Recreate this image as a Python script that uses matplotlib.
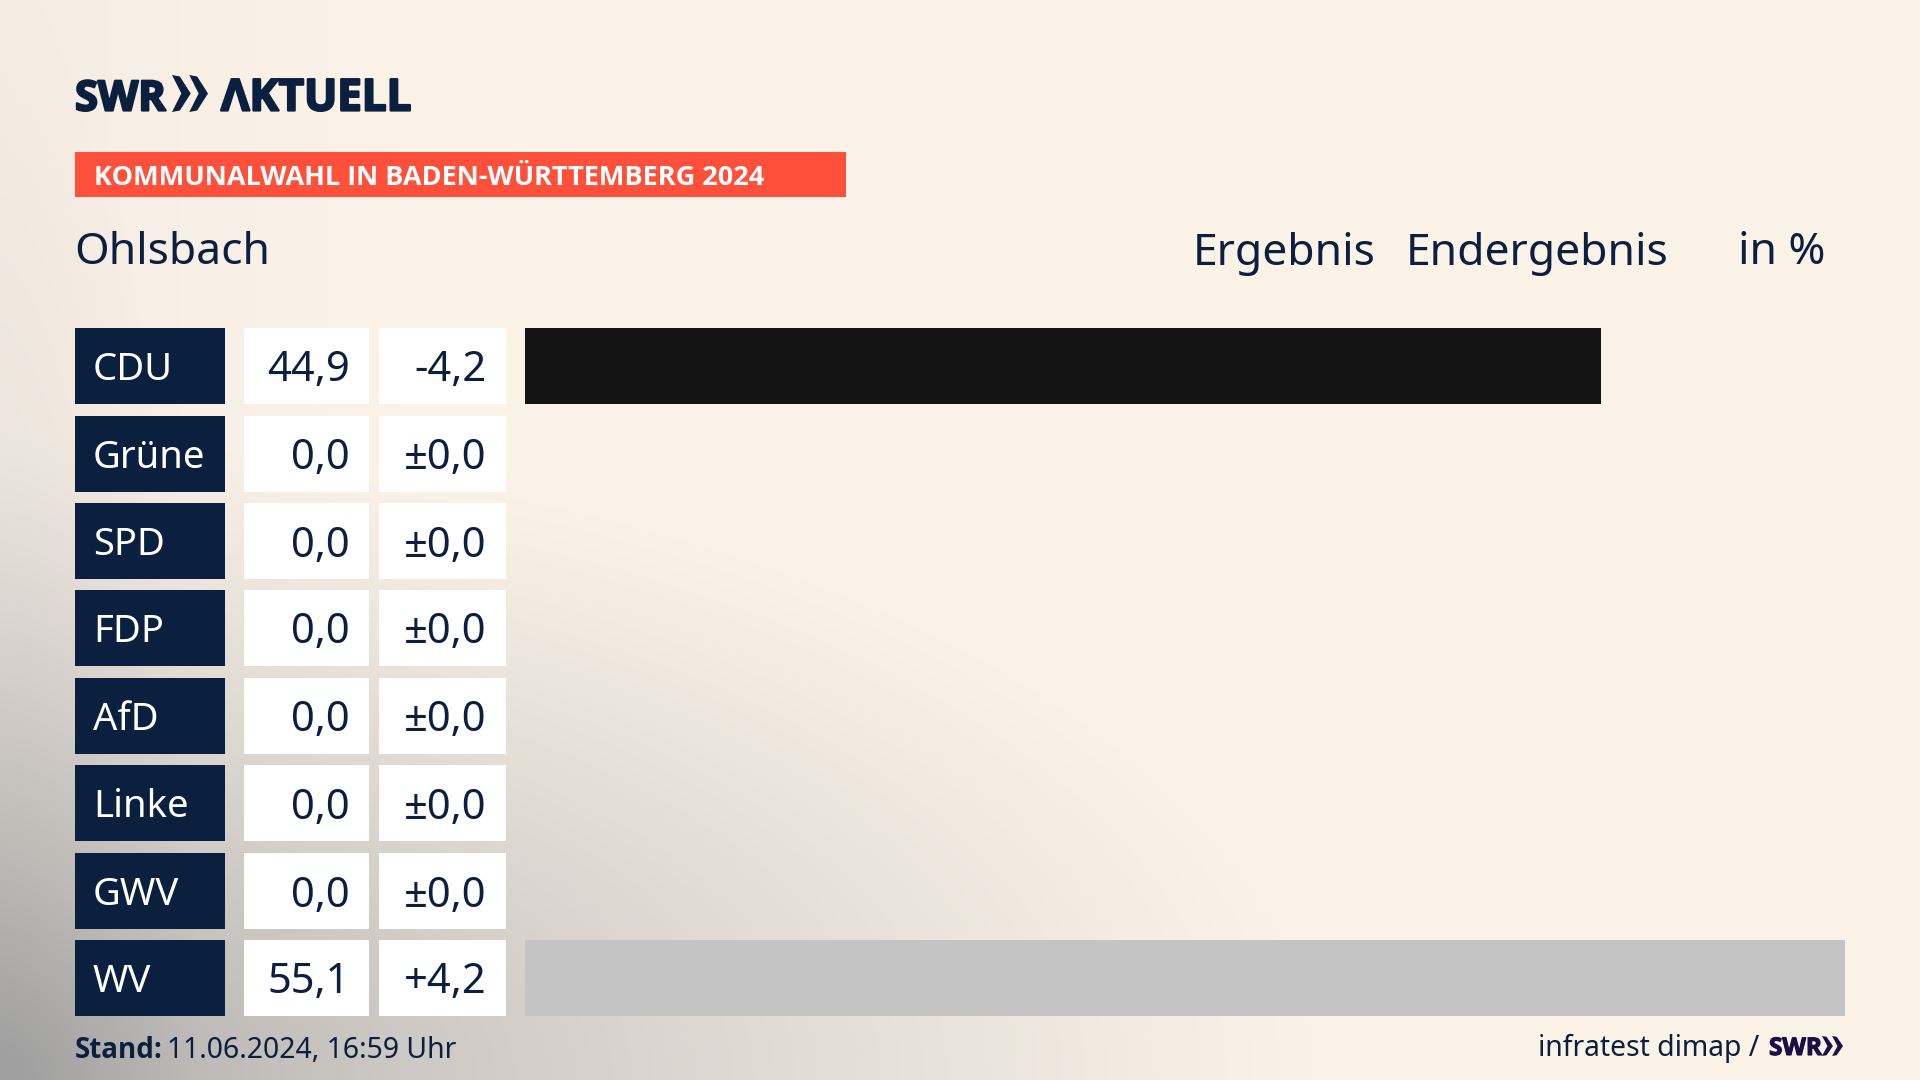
import numpy as np
import matplotlib
matplotlib.use("Agg")
import matplotlib.pyplot as plt
import matplotlib.patheffects as pe
from matplotlib.patches import Rectangle, Polygon

parties = ["CDU", "Grüne", "SPD", "FDP", "AfD", "Linke", "GWV", "WV"]
results = [44.9, 0.0, 0.0, 0.0, 0.0, 0.0, 0.0, 55.1]
changes = ["-4,2", "±0,0", "±0,0", "±0,0", "±0,0", "±0,0", "±0,0", "+4,2"]
bar_colors = ["#141414", "#c4c4c4", "#c4c4c4", "#c4c4c4", "#c4c4c4", "#c4c4c4", "#c4c4c4", "#c4c4c4"]

NAVY = "#0b1f3e"
RED = "#ff503c"
FONT = "Noto Sans"
BOLD = "Open Sans"
W, H = 1920, 1080
ROW_TOP, ROW_H, PITCH = 328, 76, 87.43

fig = plt.figure(figsize=(19.2, 10.8), dpi=100)

# background
bg = fig.add_axes([0, 0, 1, 1], zorder=0)
yy, xx = np.mgrid[0:H:270j, 0:W:480j]
d1 = np.sqrt((xx / 1350) ** 2 + ((H - yy) / 650) ** 2)
t1 = np.clip(1 - d1, 0, 1) ** 1.2
d2 = np.sqrt((xx / 200) ** 2 + ((H - yy) / 1100) ** 2)
t2 = np.clip(1 - d2, 0, 1)
t3 = np.clip(1 - xx / 400, 0, 1)
t = np.clip(0.78 * t1 + 0.2 * t2 + 0.06 * t3, 0, 1)
base = np.array([251, 242, 232]) / 255
dark = np.array([160, 160, 160]) / 255
img = base[None, None, :] * (1 - t[..., None]) + dark[None, None, :] * t[..., None]
bg.imshow(img, extent=(0, W, H, 0), aspect="auto", interpolation="bilinear")
bg.set_xlim(0, W)
bg.set_ylim(H, 0)
bg.axis("off")

# pixel overlay
ov = fig.add_axes([0, 0, 1, 1], zorder=2)
ov.set_xlim(0, W)
ov.set_ylim(H, 0)
ov.axis("off")
ov.patch.set_alpha(0)

# bars
bars_left, bars_right = 525, 1845
bottom_px = ROW_TOP + 7 * PITCH + ROW_H
ax = fig.add_axes([bars_left / W, 1 - bottom_px / H, (bars_right - bars_left) / W,
                   (bottom_px - ROW_TOP) / H], zorder=1)
ax.patch.set_alpha(0)
ax.axis("off")
ypos = np.arange(len(parties))
ax.barh(ypos, results, height=ROW_H / PITCH, color=bar_colors, linewidth=0)
ax.set_xlim(0, max(results))
half = ROW_H / PITCH / 2
ax.set_ylim(len(parties) - 1 + half, -half)

# table
for i, (p, r, c) in enumerate(zip(parties, results, changes)):
    top = round(ROW_TOP + i * PITCH + 0.1)
    cy = top + ROW_H / 2 - 0.5
    ov.add_patch(Rectangle((75, top), 150, ROW_H, fc=NAVY, lw=0))
    ov.add_patch(Rectangle((244, top), 125, ROW_H, fc="white", lw=0))
    ov.add_patch(Rectangle((379, top), 127, ROW_H, fc="white", lw=0))
    ov.text(93, cy, p, color="white", fontsize=27.5, family=FONT, va="center_baseline", ha="left")
    ov.text(349.5, cy, f"{r:.1f}".replace(".", ","), color=NAVY, fontsize=30, family=FONT,
            va="center_baseline", ha="right")
    ov.text(486.5, cy, c, color=NAVY, fontsize=30, family=FONT, va="center_baseline", ha="right")

# logo
heavy = [pe.withStroke(linewidth=1.6, foreground=NAVY)]
ov.text(75, 110.5, "SWR", color=NAVY, fontsize=30, family=BOLD, weight="bold", va="baseline", ha="left",
        path_effects=heavy)
ov.text(221, 110.5, "ΛKTUELL", color=NAVY, fontsize=31.6, family=BOLD, weight="bold", va="baseline", ha="left",
        path_effects=heavy)
def chevrons(x0, y0, w, h, color):
    cw = w * 0.52
    for k in (0, 1):
        x = x0 + k * (w - cw)
        ov.add_patch(Polygon([(x, y0), (x + cw * 0.42, y0 + h * 0.04), (x + cw, y0 + h / 2),
                              (x + cw * 0.42, y0 + h * 0.96), (x, y0 + h), (x + cw * 0.5, y0 + h / 2)],
                             closed=True, fc=color, lw=0))
chevrons(172, 75, 36, 37, NAVY)

# band
ov.add_patch(Rectangle((75, 152), 771, 45, fc=RED, lw=0))
ov.text(94, 175, "KOMMUNALWAHL IN BADEN-WÜRTTEMBERG 2024", color="white", fontsize=19.5,
        family=BOLD, weight="bold", va="center_baseline", ha="left")

# header
ov.text(74, 248, "Ohlsbach", color=NAVY, fontsize=32, family=FONT, va="center_baseline", ha="left")
ov.text(1193, 248, "Ergebnis", color=NAVY, fontsize=32, family=FONT, va="center_baseline", ha="left")
ov.text(1406, 248, "Endergebnis", color=NAVY, fontsize=32, family=FONT, va="center_baseline", ha="left")
ov.text(1738, 248, "in %", color=NAVY, fontsize=32, family=FONT, va="center_baseline", ha="left")

# footer
ov.text(75, 1047, "Stand:", color=NAVY, fontsize=20, family=BOLD, weight="bold", va="center_baseline", ha="left")
ov.text(167, 1047, "11.06.2024, 16:59 Uhr", color=NAVY, fontsize=20.4, family=FONT, va="center_baseline", ha="left")
ov.text(1759, 1045, "infratest dimap /", color=NAVY, fontsize=20.4, family=FONT, va="center_baseline", ha="right")
ov.text(1769, 1055, "SWR", color="#1d0f45", fontsize=17.5, family=BOLD, weight="bold", va="baseline", ha="left",
        path_effects=[pe.withStroke(linewidth=0.8, foreground="#1d0f45")])
chevrons(1822, 1036, 21, 20, "#1d0f45")

fig.savefig("out.png", dpi=100)
